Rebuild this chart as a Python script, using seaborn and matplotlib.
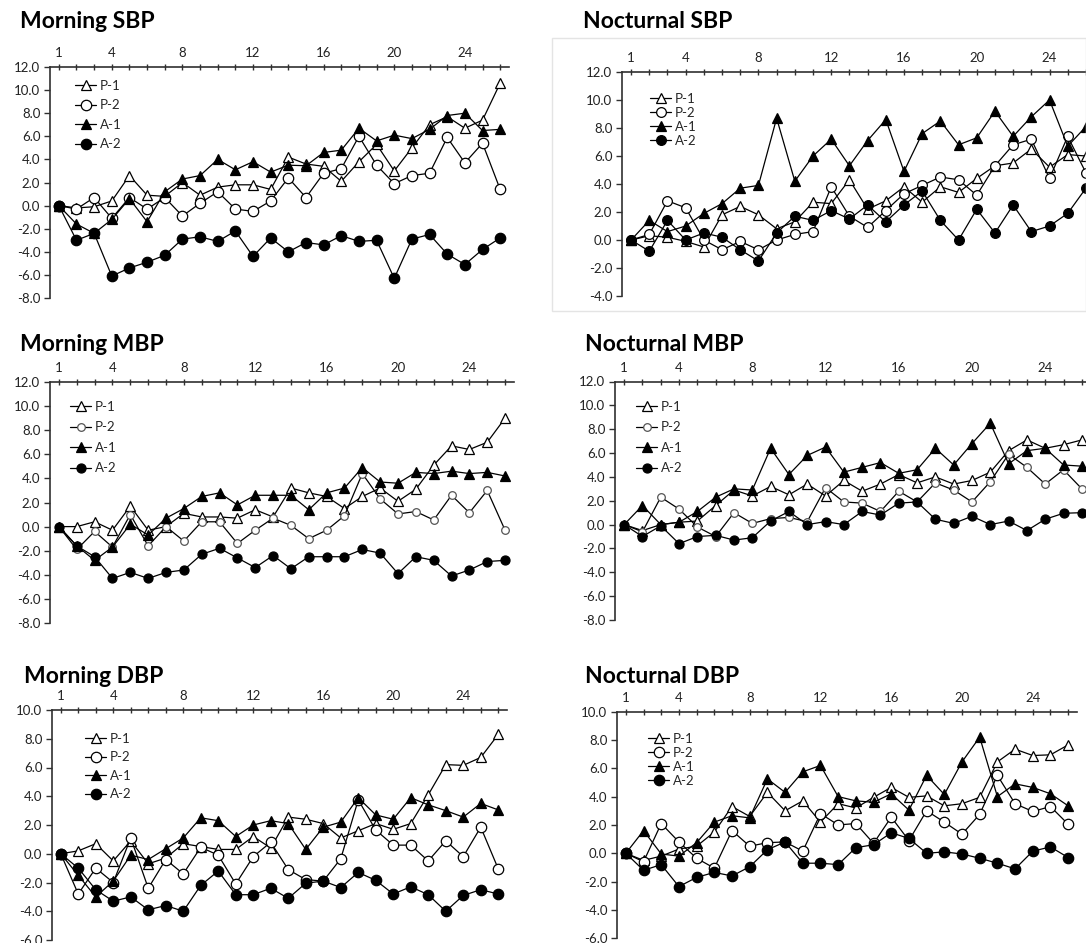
import numpy as np
import pandas as pd
import matplotlib
matplotlib.use("Agg")
import matplotlib.pyplot as plt
import matplotlib.patches as mpatches
import seaborn as sns

# data: change from baseline, days 1..26
days = list(range(1, 27))
xtick_labels = [1, 4, 8, 12, 16, 20, 24]
series_names = ["P-1", "P-2", "A-1", "A-2"]

# Morning SBP
msbp_p1 = [0, -0.2, -0.1, 0.4, 2.6, 0.9, 0.8, 2.0, 0.9, 1.6, 1.8, 1.8, 1.4, 4.2, 3.6, 3.4, 2.1, 3.8, 5.3, 3.0, 5.0, 7.0, 7.7, 6.7, 7.4, 10.6]
msbp_p2 = [0, -0.3, 0.7, -1.1, 0.7, -0.3, 0.7, -0.9, 0.2, 1.2, -0.3, -0.5, 0.4, 2.4, 0.7, 2.8, 3.2, 6.0, 3.5, 1.9, 2.6, 2.8, 5.9, 3.7, 5.4, 1.4]
msbp_a1 = [0, -1.6, -2.4, -1.2, 0.6, -1.4, 1.2, 2.3, 2.6, 4.0, 3.1, 3.8, 2.9, 3.5, 3.45, 4.6, 4.8, 6.7, 5.6, 6.1, 5.8, 6.6, 7.8, 8.0, 6.5, 6.6]
msbp_a2 = [0, -3.0, -2.4, -6.1, -5.4, -4.9, -4.3, -2.9, -2.7, -3.1, -2.2, -4.4, -2.8, -4.0, -3.2, -3.4, -2.6, -3.1, -3.0, -6.3, -2.9, -2.5, -4.2, -5.1, -3.8, -2.8]

# Nocturnal SBP
nsbp_p1 = [0, 0.3, 0.2, -0.1, -0.5, 1.8, 2.4, 1.8, 0.8, 1.3, 2.7, 2.6, 4.3, 2.2, 2.8, 3.8, 2.7, 3.8, 3.4, 4.4, 5.3, 5.5, 6.5, 5.2, 6.1, 6.0]
nsbp_p2 = [0, 0.4, 2.8, 2.3, 0.0, -0.7, -0.1, -0.7, 0.0, 0.4, 0.6, 3.8, 1.7, 0.9, 2.1, 3.3, 3.9, 4.5, 4.3, 3.2, 5.3, 6.8, 7.2, 4.4, 7.4, 4.8]
nsbp_a1 = [0, 1.4, 0.6, 1.0, 1.9, 2.6, 3.7, 3.9, 8.7, 4.2, 6.0, 7.2, 5.3, 7.1, 8.6, 4.9, 7.6, 8.5, 6.8, 7.3, 9.2, 7.4, 8.8, 10.0, 6.7, 8.1]
nsbp_a2 = [0, -0.8, 1.4, 0.0, 0.5, 0.2, -0.7, -1.5, 0.5, 1.7, 1.4, 2.1, 1.5, 2.5, 1.3, 2.5, 3.5, 1.4, 0.0, 2.2, 0.5, 2.5, 0.6, 1.0, 1.9, 3.7]

# Morning MBP
mmbp_p1 = [0, 0.0, 0.4, -0.3, 1.7, -0.3, 0.0, 1.1, 0.8, 0.8, 0.7, 1.4, 0.8, 3.2, 2.8, 2.5, 1.5, 2.5, 3.2, 2.1, 3.1, 5.1, 6.7, 6.4, 7.0, 9.0]
mmbp_p2 = [0, -1.9, -0.4, -1.7, 1.0, -1.6, 0.0, -1.2, 0.4, 0.4, -1.4, -0.3, 0.7, 0.1, -1.0, -0.3, 0.9, 4.4, 2.3, 1.05, 1.25, 0.55, 2.6, 1.15, 3.0, -0.3]
mmbp_a1 = [0, -1.6, -2.8, -1.7, 0.2, -0.7, 0.7, 1.5, 2.5, 2.8, 1.8, 2.6, 2.6, 2.6, 1.4, 2.8, 3.2, 4.9, 3.7, 3.6, 4.5, 4.4, 4.6, 4.4, 4.5, 4.2]
mmbp_a2 = [0, -1.6, -2.5, -4.3, -3.8, -4.3, -3.8, -3.6, -2.3, -1.8, -2.6, -3.4, -2.4, -3.5, -2.5, -2.5, -2.5, -1.9, -2.2, -3.9, -2.5, -2.8, -4.1, -3.6, -2.9, -2.8]

# Nocturnal MBP
nmbp_p1 = [0, -0.5, 0.0, 0.2, 0.3, 1.6, 2.9, 2.4, 3.2, 2.5, 3.4, 2.4, 3.7, 2.8, 3.4, 4.2, 3.5, 4.0, 3.4, 3.7, 4.4, 6.2, 7.1, 6.4, 6.7, 7.1]
nmbp_p2 = [0, -0.6, 2.3, 1.3, -0.2, -1.0, 1.0, 0.1, 0.5, 0.6, 0.25, 3.1, 1.9, 1.8, 1.1, 2.8, 1.9, 3.5, 2.9, 1.9, 3.6, 5.9, 4.8, 3.4, 4.6, 3.0]
nmbp_a1 = [0, 1.6, 0.0, 0.2, 1.1, 2.3, 3.0, 2.9, 6.4, 4.2, 5.8, 6.5, 4.4, 4.8, 5.2, 4.3, 4.6, 6.4, 5.0, 6.8, 8.5, 5.1, 6.2, 6.4, 5.0, 4.9]
nmbp_a2 = [0, -1.0, -0.1, -1.6, -1.0, -0.9, -1.3, -1.1, 0.3, 1.1, 0.0, 0.25, 0.0, 1.1, 0.8, 1.8, 1.9, 0.45, 0.1, 0.7, 0.0, 0.3, -0.5, 0.45, 0.95, 1.0]

# Morning DBP
mdbp_p1 = [0, 0.2, 0.7, -0.5, 0.9, -0.7, -0.3, 0.7, 0.5, 0.3, 0.3, 1.2, 0.4, 2.55, 2.4, 2.1, 1.1, 1.6, 2.1, 1.7, 2.1, 4.1, 6.2, 6.15, 6.7, 8.3]
mdbp_p2 = [0, -2.8, -1.0, -2.0, 1.1, -2.4, -0.4, -1.4, 0.45, -0.1, -2.1, -0.2, 0.8, -1.1, -1.8, -1.9, -0.35, 3.75, 1.65, 0.6, 0.6, -0.5, 0.9, -0.2, 1.85, -1.05]
mdbp_a1 = [0, -1.5, -3.0, -1.9, -0.1, -0.4, 0.35, 1.1, 2.5, 2.3, 1.2, 2.0, 2.3, 2.1, 0.3, 1.85, 2.2, 3.9, 2.7, 2.4, 3.9, 3.4, 3.0, 2.55, 3.5, 3.05]
mdbp_a2 = [0, -1.0, -2.5, -3.3, -3.0, -3.9, -3.6, -4.0, -2.2, -1.2, -2.85, -2.85, -2.4, -3.1, -2.05, -1.9, -2.35, -1.3, -1.85, -2.8, -2.3, -2.85, -4.0, -2.9, -2.5, -2.8]

# Nocturnal DBP
ndbp_p1 = [0, -0.5, -0.2, 0.3, 0.5, 1.5, 3.3, 2.6, 4.3, 3.0, 3.7, 2.2, 3.5, 3.2, 3.95, 4.65, 3.95, 4.05, 3.35, 3.5, 3.95, 6.45, 7.35, 6.9, 6.95, 7.65]
ndbp_p2 = [0, -0.6, 2.1, 0.8, -0.35, -1.05, 1.6, 0.5, 0.75, 0.8, 0.15, 2.8, 2.0, 2.1, 0.7, 2.55, 0.9, 3.0, 2.2, 1.35, 2.75, 5.5, 3.5, 2.95, 3.3, 2.05]
ndbp_a1 = [0, 1.6, -0.05, -0.2, 0.75, 2.2, 2.65, 2.5, 5.25, 4.3, 5.75, 6.2, 4.0, 3.7, 3.6, 4.2, 3.05, 5.5, 4.15, 6.45, 8.2, 4.0, 4.9, 4.65, 4.2, 3.35]
ndbp_a2 = [0, -1.2, -0.8, -2.35, -1.7, -1.35, -1.6, -0.95, 0.25, 0.8, -0.7, -0.7, -0.8, 0.4, 0.6, 1.45, 1.05, 0.0, 0.1, -0.05, -0.35, -0.7, -1.1, 0.15, 0.45, -0.3]

W, H = 1086, 943

def px_rect(l, t, r, b):
    return [l / W, 1 - b / H, (r - l) / W, (b - t) / H]

# layout in pixels: axes rect, title anchor, legend anchor and row spacing
panels = [
    dict(title="Morning SBP", data=[msbp_p1, msbp_p2, msbp_a1, msbp_a2], ylim=(-8, 12),
         rect=(50, 67, 509, 298), title_xy=(20, 28), leg_xy=(75, 80), leg_gap=20, ms=7.5, ms_p2=7.5),
    dict(title="Nocturnal SBP", data=[nsbp_p1, nsbp_p2, nsbp_a1, nsbp_a2], ylim=(-4, 12),
         rect=(622, 72, 1095, 296), title_xy=(583, 28), leg_xy=(650, 93), leg_gap=14.5, ms=7, ms_p2=7),
    dict(title="Morning MBP", data=[mmbp_p1, mmbp_p2, mmbp_a1, mmbp_a2], ylim=(-8, 12),
         rect=(50, 382, 514, 623), title_xy=(20, 351), leg_xy=(70, 401), leg_gap=21, ms=6.5, ms_p2=5.5),
    dict(title="Nocturnal MBP", data=[nmbp_p1, nmbp_p2, nmbp_a1, nmbp_a2], ylim=(-8, 12),
         rect=(615, 381.5, 1091, 620), title_xy=(585, 351), leg_xy=(636, 401), leg_gap=21, ms=6.5, ms_p2=5.5),
    dict(title="Morning DBP", data=[mdbp_p1, mdbp_p2, mdbp_a1, mdbp_a2], ylim=(-6, 10),
         rect=(52, 710, 507, 940), title_xy=(24, 683), leg_xy=(85, 733), leg_gap=19, ms=7.5, ms_p2=7.5),
    dict(title="Nocturnal DBP", data=[ndbp_p1, ndbp_p2, ndbp_a1, ndbp_a2], ylim=(-6, 10),
         rect=(617, 711.6, 1077, 938.3), title_xy=(585, 683), leg_xy=(648, 733), leg_gap=14.5, ms=7.5, ms_p2=7.5),
]

marker_styles = [
    dict(marker="^", markerfacecolor="white", markeredgecolor="black"),
    dict(marker="o", markerfacecolor="white", markeredgecolor="black"),
    dict(marker="^", markerfacecolor="black", markeredgecolor="black"),
    dict(marker="o", markerfacecolor="black", markeredgecolor="black"),
]

sns.set_style("white")
plt.rcParams["font.family"] = ["Lato", "DejaVu Sans"]

fig = plt.figure(figsize=(W / 100, H / 100), dpi=100)
fig.patch.set_facecolor("white")

# faint frame around the pasted nocturnal SBP panel
fig.patches.append(mpatches.Rectangle((552 / W, 1 - 311 / H), (W - 552) / W, (311 - 38) / H,
                                      transform=fig.transFigure, fill=False,
                                      edgecolor="#e4e4e4", linewidth=1))

fs = 9.5
fs_px = fs * 100 / 72
for p in panels:
    ax = fig.add_axes(px_rect(*p["rect"]))
    df = pd.DataFrame({"day": days})
    for name, vals, st in zip(series_names, p["data"], marker_styles):
        ms = p["ms_p2"] if name == "P-2" else p["ms"]
        edge = st["markeredgecolor"]
        if name == "P-2" and p["ms_p2"] < p["ms"]:
            edge = "#555555"
        sns.lineplot(x=df["day"], y=vals, ax=ax, color="black", linewidth=0.9,
                     marker=st["marker"], markerfacecolor=st["markerfacecolor"],
                     markeredgecolor=edge, markeredgewidth=0.9, markersize=ms,
                     label=name, clip_on=False)

    ax.set_xlim(0.5, 26.5)
    lo, hi = p["ylim"]
    ax.set_ylim(lo, hi)
    ax.set_yticks(np.arange(lo, hi + 0.1, 2))
    ax.set_yticklabels([f"{v:.1f}" for v in np.arange(lo, hi + 0.1, 2)])
    ax.xaxis.tick_top()
    ax.set_xticks(xtick_labels)
    ax.set_xticklabels([str(v) for v in xtick_labels])
    ax.set_xticks(days, minor=True)
    ax.set_xlabel("")
    ax.set_ylabel("")

    for side in ["bottom", "right"]:
        ax.spines[side].set_visible(False)
    for side in ["top", "left"]:
        ax.spines[side].set_color("#303030")
        ax.spines[side].set_linewidth(1.2)
    ax.tick_params(axis="x", which="both", direction="inout", length=5, width=1,
                   color="#303030", labelsize=fs, labelcolor="#222222", pad=3)
    ax.tick_params(axis="y", which="major", direction="out", length=4, width=1,
                   color="#303030", labelsize=fs, labelcolor="#222222", pad=3, left=True)
    ax.grid(False)
    ax.patch.set_alpha(0)

    lx, ly = p["leg_xy"]
    ax.legend(loc="upper left", bbox_to_anchor=(lx / W, 1 - ly / H), bbox_transform=fig.transFigure,
              frameon=False, fontsize=fs, borderpad=0, borderaxespad=0, handlelength=1.6,
              handletextpad=0.3, labelspacing=max((p["leg_gap"] - 0.95 * fs_px) / fs_px, 0.02))

    tx, ty = p["title_xy"]
    fig.text(tx / W, 1 - ty / H, p["title"], fontsize=16.5, fontweight="bold",
             ha="left", va="baseline", color="black")

fig.savefig("out.png", dpi=100)
